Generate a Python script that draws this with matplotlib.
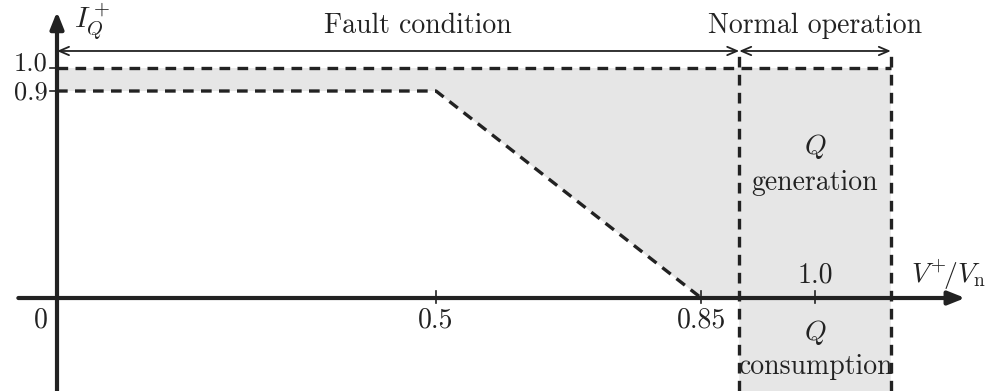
import matplotlib.pyplot as plt

plt.rcParams['mathtext.fontset'] = 'cm'
plt.rcParams['font.family'] = 'cmr10'
plt.rcParams['axes.unicode_minus'] = False

# Reactive current requirement vs. positive-sequence voltage
v_curve = [0.0, 0.5, 0.85]
iq_curve = [0.9, 0.9, 0.0]
iq_max = 1.0
v_fault_end = 0.9
v_normal_end = 1.1
v_nominal = 1.0
x_ticks_below = [0.0, 0.5, 0.85]
x_tick_labels_below = ['0', '0.5', '0.85']
y_ticks = [0.9, 1.0]
y_tick_labels = ['0.9', '1.0']

fig = plt.figure(figsize=(9.88, 3.91), dpi=100)
ax = fig.add_axes([0, 0, 1, 1])
ax.set_xlim(-0.0752, 1.2282)
ax.set_ylim(-0.4043, 1.2957)
ax.axis('off')

ink = '#222222'
fs = 20
y_bottom = -0.4043

# Shaded operating region
fill_x = [0.0, v_curve[1], v_curve[2], v_fault_end, v_fault_end, v_normal_end, v_normal_end, 0.0]
fill_y = [iq_curve[0], iq_curve[1], iq_curve[2], 0.0, y_bottom, y_bottom, iq_max, iq_max]
ax.fill(fill_x, fill_y, color='#e6e6e6', lw=0, zorder=1)

# Dashed boundaries
dash = dict(color=ink, lw=2.4, ls=(0, (3.2, 2.2)), zorder=3)
ax.plot([0.0, v_normal_end], [iq_max, iq_max], **dash)
ax.plot(v_curve, iq_curve, **dash)
ax.plot([v_fault_end, v_fault_end], [y_bottom, 1.074], **dash)
ax.plot([v_normal_end, v_normal_end], [y_bottom, 1.074], **dash)

# Axes with arrows
ax.annotate('', xy=(1.198, 0), xytext=(-0.051, 0),
            arrowprops=dict(arrowstyle='-|>,head_length=1.0,head_width=0.4',
                            color=ink, lw=3, shrinkA=0, shrinkB=0), zorder=4)
ax.annotate('', xy=(0, 1.245), xytext=(0, y_bottom),
            arrowprops=dict(arrowstyle='-|>,head_length=1.0,head_width=0.4',
                            color=ink, lw=3, shrinkA=0, shrinkB=0), zorder=4)

# Ticks
for v in x_ticks_below[1:] + [v_nominal]:
    ax.plot([v, v], [-0.02, 0.03], color=ink, lw=1.2, zorder=4)
for iq in y_ticks:
    ax.plot([-0.009, 0], [iq, iq], color=ink, lw=1.2, zorder=4)

for v, lab in zip(x_ticks_below, x_tick_labels_below):
    xv = v - 0.022 if v == 0 else v
    ax.text(xv, -0.095, lab, ha='center', va='center', fontsize=fs, color=ink)
ax.text(v_nominal, 0.1, '1.0', ha='center', va='center', fontsize=fs, color=ink)
for iq, lab in zip(y_ticks, y_tick_labels):
    yv = iq + 0.02 if iq == iq_max else iq - 0.005
    ax.text(-0.012, yv, lab, ha='right', va='center', fontsize=fs - 1, color=ink)

# Axis labels
ax.text(0.022, 1.2, r'$I_Q^+$', ha='left', va='center', fontsize=fs + 1, color=ink)
ax.text(1.127, 0.1, r'$V^{+}\!/V_\mathrm{n}$', ha='left', va='center', fontsize=fs, color=ink)

# Region spans
span = dict(arrowstyle='<->,head_length=0.7,head_width=0.3', color=ink, lw=1.3,
            shrinkA=0, shrinkB=0)
ax.annotate('', xy=(0, 1.074), xytext=(v_fault_end, 1.074), arrowprops=span)
ax.annotate('', xy=(v_fault_end, 1.074), xytext=(v_normal_end, 1.074), arrowprops=span)
ax.text(0.476, 1.185, 'Fault condition', ha='center', va='center', fontsize=fs, color=ink)
ax.text(v_nominal, 1.185, 'Normal operation', ha='center', va='center', fontsize=fs, color=ink)

# Region descriptions
ax.text(v_nominal, 0.66, r'$Q$', ha='center', va='center', fontsize=fs, color=ink)
ax.text(v_nominal, 0.5, 'generation', ha='center', va='center', fontsize=fs, color=ink)
ax.text(v_nominal, -0.15, r'$Q$', ha='center', va='center', fontsize=fs, color=ink)
ax.text(v_nominal, -0.3, 'consumption', ha='center', va='center', fontsize=fs, color=ink)

fig.savefig('out.png', dpi=100)
